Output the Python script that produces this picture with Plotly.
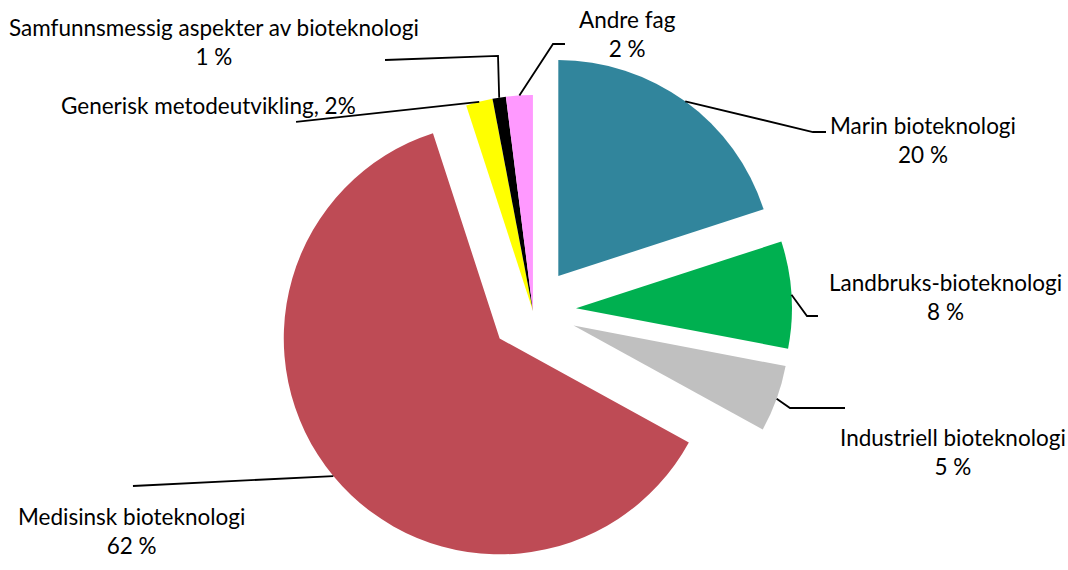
import numpy as np
import plotly.graph_objects as go

W, H = 1068, 570

labels = ['Marin bioteknologi', 'Landbruks-bioteknologi', 'Industriell bioteknologi',
          'Medisinsk bioteknologi', 'Generisk metodeutvikling',
          'Samfunnsmessig aspekter av bioteknologi', 'Andre fag']
values = [20, 8, 5, 62, 2, 1, 2]
label_texts = ['Marin bioteknologi<br>20 %',
               'Landbruks-bioteknologi<br>8 %',
               'Industriell bioteknologi<br>5 %',
               'Medisinsk bioteknologi<br>62 %',
               'Generisk metodeutvikling, 2%',
               'Samfunnsmessig aspekter av bioteknologi<br>1 %',
               'Andre fag<br>2 %']
colors = ['#31859C', '#00B050', '#C0C0C0', '#BE4B55', '#FFFF00', '#000000', '#FF99FF']
pulls = [0.2, 0.2, 0.2, 0.2, 0, 0, 0]

# label placement (pixels) and leader-line tails (pixels)
label_pos = [(923, 140), (945, 297), (953, 452), (131, 531), (208, 105), (214, 42), (627, 34)]
tails = [
    [(813, 132), (826, 132)],
    [(807, 316), (818, 316)],
    [(790, 408), (845, 408)],
    [(133, 486)],
    [(296, 122)],
    [(498, 56), (385, 60)],
    [(553, 44), (565, 44)],
]

dom_x = [0.2, 0.798]
dom_y = [0.0, 0.909]

fig = go.Figure()
fig.add_trace(go.Pie(
    labels=labels, values=values, sort=False, direction='clockwise', rotation=0,
    pull=pulls, marker=dict(colors=colors, line=dict(width=0)),
    textinfo='none', hoverinfo='label+percent', showlegend=False,
    domain=dict(x=dom_x, y=dom_y)
))

# pie geometry as plotly computes it, to attach leader lines to the slices
box_w = W * (dom_x[1] - dom_x[0])
box_h = H * (dom_y[1] - dom_y[0])
r = min(box_w, box_h) / (2 + 2 * max(pulls))
cx = W * (dom_x[0] + dom_x[1]) / 2
cy = H - H * (dom_y[0] + dom_y[1]) / 2

total = sum(values)
cum = np.cumsum([0] + values)
shapes = []
annotations = []
for i in range(len(values)):
    mid = 2 * np.pi * (cum[i] + values[i] / 2) / total
    d = r * (1 + pulls[i])
    ax, ay = cx + d * np.sin(mid), cy - d * np.cos(mid)
    pts = [(ax, ay)] + tails[i]
    path = 'M ' + ' L '.join('%.4f,%.4f' % (px / W, 1 - py / H) for px, py in pts)
    shapes.append(dict(type='path', path=path, xref='paper', yref='paper',
                       line=dict(color='black', width=1.8)))
    lx, ly = label_pos[i]
    annotations.append(dict(text=label_texts[i], x=lx / W, y=1 - ly / H, xref='paper', yref='paper',
                            xanchor='center', yanchor='middle', showarrow=False, align='center',
                            font=dict(family='Lato', size=22.5, color='black')))

fig.update_layout(width=W, height=H, margin=dict(l=0, r=0, t=0, b=0),
                  paper_bgcolor='white', plot_bgcolor='white',
                  shapes=shapes, annotations=annotations)

fig.write_html("out.html", config={'displayModeBar': False},
               post_script="document.body.style.margin='0px';")
